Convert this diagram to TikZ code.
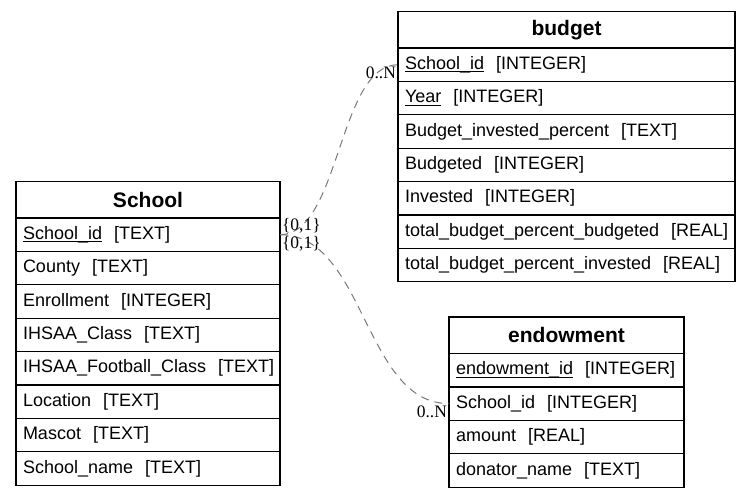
\documentclass[tikz,border=0pt]{standalone}
\usepackage{fontspec}
\setmainfont{Liberation Sans}
\newfontfamily\cardfont{Liberation Serif}
\usepackage{xcolor}
\definecolor{edgeGray}{RGB}{120, 120, 120}
\newcommand{\pkey}[1]{\setbox0=\hbox{#1}\rlap{\rule[-3pt]{\wd0}{0.9pt}}\box0}

\begin{document}
\begin{tikzpicture}[x=1pt, y=-1pt]
            \tikzstyle{title} = [draw, line width=1.2pt, anchor=north west, outer sep=0pt, inner xsep=7pt, text width=#1pt, align=center, minimum height=36.5pt, font=\fontsize{21}{25}\selectfont\bfseries]
            \tikzstyle{row} = [draw, line width=1.2pt, anchor=north west, outer sep=0pt, inner xsep=7pt, text width=#1pt, align=left, minimum height=33.4pt, font=\fontsize{18}{21}\selectfont]
            \tikzstyle{card} = [inner sep=1.5pt, font=\cardfont\fontsize{17.5}{20}\selectfont]
            \tikzstyle{relation} = [edgeGray, line width=1pt, dash pattern=on 8pt off 6pt]
            \useasboundingbox (0,0) rectangle (751,498);

            % School
            \node[title=250] (school) at (16,181.5) {School};
            \node[row=250] (s1) at (school.south west) {\pkey{School\_id}~~[TEXT]};
            \node[row=250] (s2) at (s1.south west) {County~~[TEXT]};
            \node[row=250] (s3) at (s2.south west) {Enrollment~~[INTEGER]};
            \node[row=250] (s4) at (s3.south west) {IHSAA\_Class~~[TEXT]};
            \node[row=250] (s5) at (s4.south west) {IHSAA\_Football\_Class~~[TEXT]};
            \node[row=250] (s6) at (s5.south west) {Location~~[TEXT]};
            \node[row=250] (s7) at (s6.south west) {Mascot~~[TEXT]};
            \node[row=250] (s8) at (s7.south west) {School\_name~~[TEXT]};

            % budget
            \node[title=323] (budget) at (398,11.5) {budget};
            \node[row=323] (b1) at (budget.south west) {\pkey{School\_id}~~[INTEGER]};
            \node[row=323] (b2) at (b1.south west) {\pkey{Year}~~[INTEGER]};
            \node[row=323] (b3) at (b2.south west) {Budget\_invested\_percent~~[TEXT]};
            \node[row=323] (b4) at (b3.south west) {Budgeted~~[INTEGER]};
            \node[row=323] (b5) at (b4.south west) {Invested~~[INTEGER]};
            \node[row=323] (b6) at (b5.south west) {total\_budget\_percent\_budgeted~~[REAL]};
            \node[row=323] (b7) at (b6.south west) {total\_budget\_percent\_invested~~[REAL]};

            % endowment
            \node[title=221] (endowment) at (449,317) {endowment};
            \node[row=221] (e1) at (endowment.south west) {\pkey{endowment\_id}~~[INTEGER]};
            \node[row=221] (e2) at (e1.south west) {School\_id~~[INTEGER]};
            \node[row=221] (e3) at (e2.south west) {amount~~[REAL]};
            \node[row=221] (e4) at (e3.south west) {donator\_name~~[TEXT]};

            % relations
            \draw[relation] (s1.east) .. controls +(60,0) and +(-60,0) .. (b1.west)
                node[card, pos=0, anchor=south west, black] {\{0,1\}}
                node[card, pos=1, anchor=north east, black] {0..N};
            \draw[relation] (s1.east) .. controls +(85,0) and +(-85,0) .. (e2.west)
                node[card, pos=0, anchor=north west, black] {\{0,1\}}
                node[card, pos=1, anchor=north east, black] {0..N};
        \end{tikzpicture}
\end{document}
